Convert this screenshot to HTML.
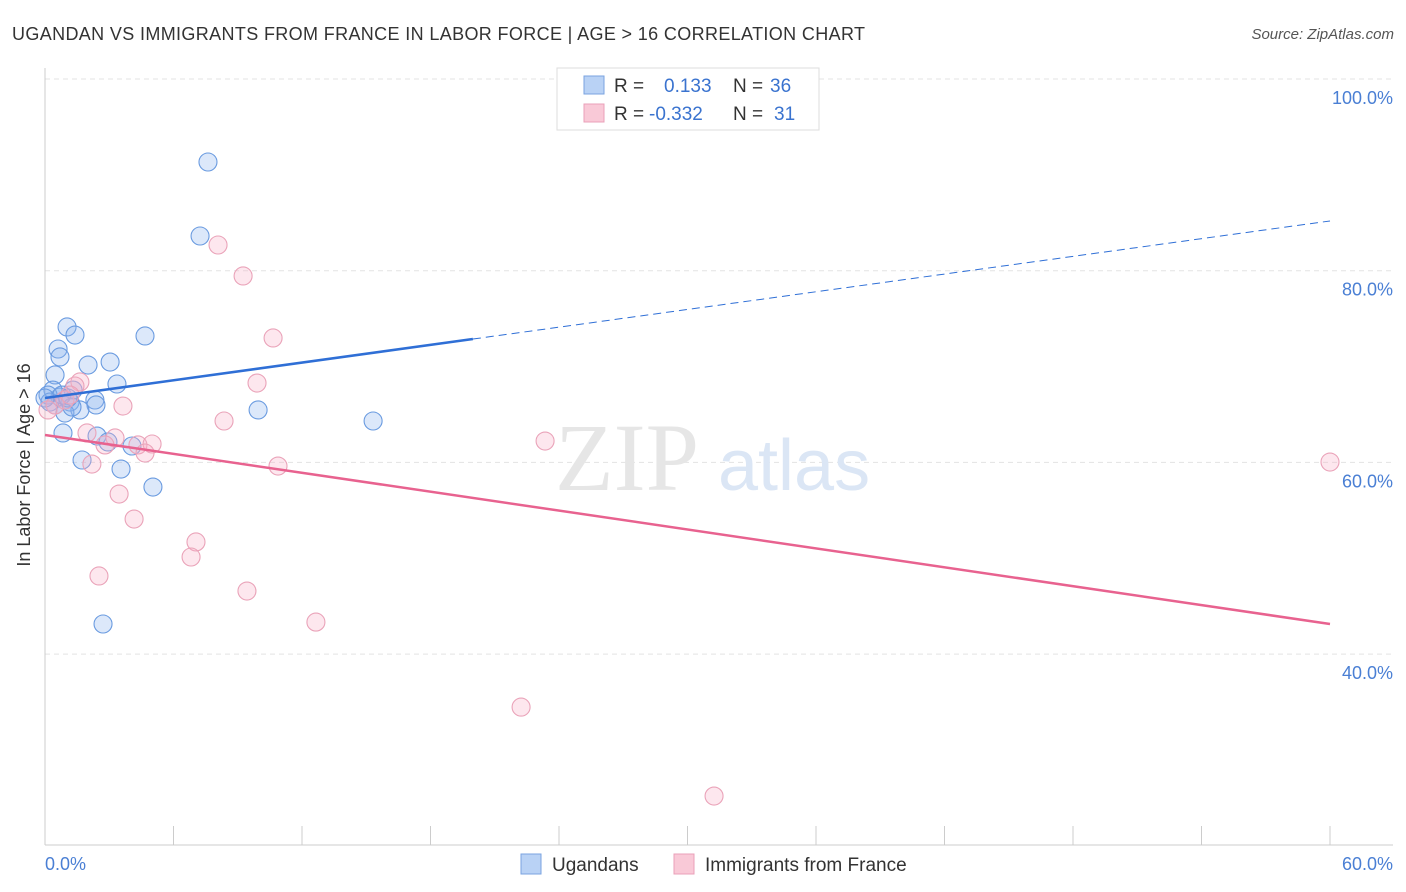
<!DOCTYPE html>
<html><head><meta charset="utf-8"><style>
body{margin:0;background:#fff;font-family:"Liberation Sans",sans-serif}
svg{display:block}
</style></head><body>
<svg width="1406" height="892">
<text x="12" y="40" font-size="18" fill="#333" textLength="853">UGANDAN VS IMMIGRANTS FROM FRANCE IN LABOR FORCE | AGE &gt; 16 CORRELATION CHART</text>
<text x="1394" y="39" font-size="15" fill="#555" font-style="italic" text-anchor="end">Source: ZipAtlas.com</text>
<g id="grid"></g>
<text x="555" y="490" font-size="96" fill="#e6e6e6" font-family="Liberation Serif,serif">ZIP</text>
<text x="718" y="490" font-size="72" fill="#dbe6f5">atlas</text>
<line x1="45" y1="68" x2="45" y2="845" stroke="#ccc"/>
<line x1="45" y1="845" x2="1393" y2="845" stroke="#ccc"/>
<g id="ticks"></g>
<g id="pts"></g>
<g id="lines"></g>
<text x="20" y="455" font-size="18" fill="#333" transform="rotate(-90 30 455)" text-anchor="middle">In Labor Force | Age &gt; 16</text>
<text x="45" y="870" font-size="18" fill="#4a7fd4">0.0%</text>
<text x="1393" y="870" font-size="18" fill="#4a7fd4" text-anchor="end">60.0%</text>
<g>
<rect x="557" y="68" width="262" height="62" fill="#fff" stroke="#ddd"/>
<rect x="584" y="76" width="20" height="18" fill="#b9d2f5" stroke="#7aa3e0"/>
<rect x="584" y="104" width="20" height="18" fill="#f9c9d7" stroke="#eaa0b8"/>
<text x="614" y="92" font-size="19" fill="#333">R =</text>
<text x="664" y="92" font-size="19" fill="#3a73cf">0.133</text>
<text x="733" y="92" font-size="19" fill="#333">N =</text>
<text x="770" y="92" font-size="19" fill="#3a73cf">36</text>
<text x="614" y="120" font-size="19" fill="#333">R =</text>
<text x="649" y="120" font-size="19" fill="#3a73cf">-0.332</text>
<text x="733" y="120" font-size="19" fill="#333">N =</text>
<text x="774" y="120" font-size="19" fill="#3a73cf">31</text>
</g>
<g>
<rect x="521" y="854" width="20" height="20" fill="#b9d2f5" stroke="#7aa3e0"/>
<text x="552" y="871" font-size="19" fill="#333">Ugandans</text>
<rect x="674" y="854" width="20" height="20" fill="#f9c9d7" stroke="#eaa0b8"/>
<text x="705" y="871" font-size="19" fill="#333">Immigrants from France</text>
</g>
</svg>
<script>
const blueX=[7.61,7.24,1.03,1.40,4.67,0.61,0.70,2.01,3.04,0.47,3.36,0.37,1.31,0.70,0.14,2.33,1.17,2.38,1.63,0.93,9.95,15.32,0.84,2.43,2.94,4.06,1.73,3.55,5.04,2.71,0.23,0.47,0.00,0.79,1.26,1.07];
const blueY=[91.34,83.62,74.13,73.29,73.19,71.83,71.00,70.16,70.47,69.12,68.18,67.55,67.55,66.82,67.03,66.51,66.30,65.99,65.47,65.15,65.47,64.32,63.07,62.75,62.13,61.71,60.25,59.31,57.43,43.14,66.30,65.99,66.72,67.03,65.78,66.72];
const pinkX=[8.08,9.25,10.65,1.63,9.90,1.40,3.64,0.47,0.93,8.36,23.35,1.96,3.27,2.80,4.34,5.00,4.67,10.88,2.19,60.00,3.46,4.16,7.05,6.82,2.52,9.43,12.65,22.23,31.24,0.14,1.17];
const pinkY=[82.68,79.45,72.98,68.39,68.28,67.97,65.88,65.99,66.51,64.32,62.23,63.07,62.55,61.82,61.82,61.92,60.98,59.62,59.83,60.04,56.70,54.09,51.70,50.13,48.15,46.58,43.34,34.47,25.19,65.47,67.03];
const yTicks=[100,80,60,40];
const yTickLabels=["100.0%","80.0%","60.0%","40.0%"];
const xTicks=[6,12,18,24,30,36,42,48,54,60];
const blueTrend=[66.72,85.19], blueSolidEnd=19.98;
const pinkTrend=[62.86,43.14];
const X=v=>45+v/60*1285, Y=v=>79+(100-v)/20*191.7;
const NS="http://www.w3.org/2000/svg";
function mk(t,a,p){const e=document.createElementNS(NS,t);for(const k in a)e.setAttribute(k,a[k]);p.appendChild(e);return e;}
const g=document.getElementById('grid');
yTicks.forEach((v,i)=>{
 const l=mk('line',{x1:45,x2:1393,y1:Y(v),y2:Y(v),stroke:'#e3e3e3','stroke-dasharray':'5,4'},g);
 
 
 const t=mk('text',{x:1393,y:Y(v)+25,'font-size':18,fill:'#4a7fd4','text-anchor':'end'},g);
 t.textContent=yTickLabels[i];
 
 
});
const tk=document.getElementById('ticks');
xTicks.forEach(v=>{const l=mk('line',{x1:X(v),x2:X(v),y1:826,y2:845,stroke:'#ccc'},tk);
 
 });
const pg=document.getElementById('pts');
blueX.forEach((x,i)=>{const c=mk('circle',{cx:X(x),cy:Y(blueY[i]),r:9,fill:'rgba(140,180,240,0.3)',stroke:'#6a9be0','stroke-width':1.1},pg);
 
 });
pinkX.forEach((x,i)=>{const c=mk('circle',{cx:X(x),cy:Y(pinkY[i]),r:9,fill:'rgba(248,175,198,0.3)',stroke:'#eaa3b9','stroke-width':1.1},pg);
 
 });
const lg=document.getElementById('lines');
const by=x=>blueTrend[0]+(blueTrend[1]-blueTrend[0])*x/60;
let l1=mk('line',{x1:X(0),y1:Y(by(0)),x2:X(blueSolidEnd),y2:Y(by(blueSolidEnd)),stroke:'#2f6fd6','stroke-width':2.5},lg);


let l2=mk('line',{x1:X(blueSolidEnd),y1:Y(by(blueSolidEnd)),x2:X(60),y2:Y(by(60)),stroke:'#2f6fd6','stroke-width':1,'stroke-dasharray':'8,5'},lg);


let l3=mk('line',{x1:X(0),y1:Y(pinkTrend[0]),x2:X(60),y2:Y(pinkTrend[1]),stroke:'#e8628f','stroke-width':2.5},lg);


</script>
</body></html>
